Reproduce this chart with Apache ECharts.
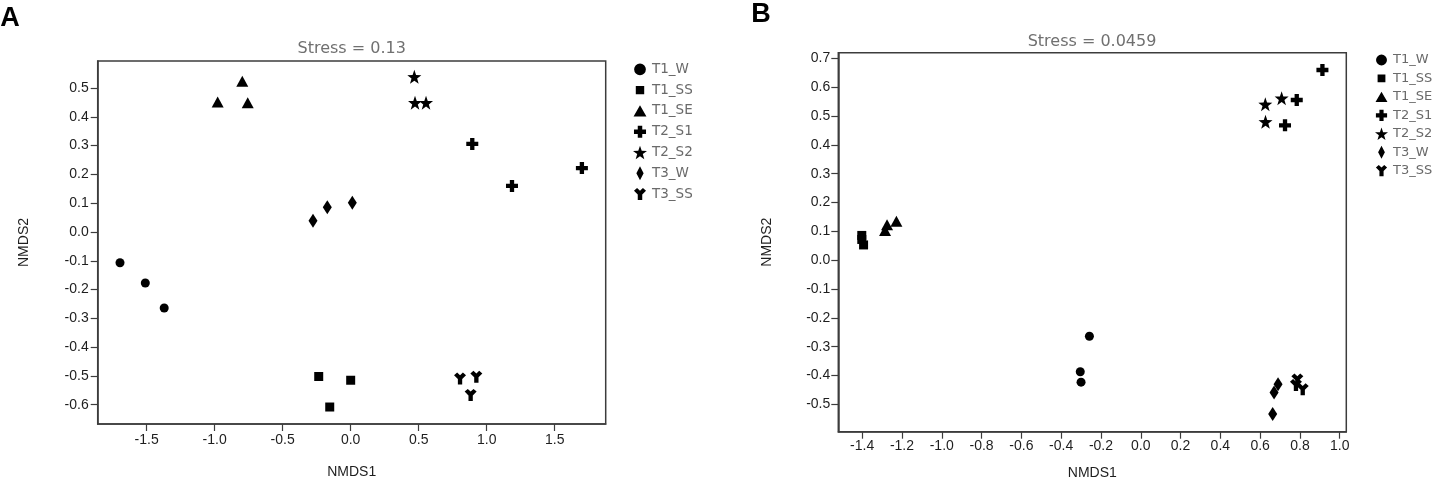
<!DOCTYPE html>
<html>
<head>
<meta charset="utf-8">
<script src="https://cdn.jsdelivr.net/npm/echarts@6/dist/echarts.min.js"></script>
<style>
html,body{margin:0;padding:0;background:#fff;}
#chart{width:1434px;height:483px;}
</style>
</head>
<body>
<div id="chart"></div>
<script>
// ---------- Data ----------
var groupNames = ['T1_W', 'T1_SS', 'T1_SE', 'T2_S1', 'T2_S2', 'T3_W', 'T3_SS'];

// Panel A (Stress = 0.13)
var A_T1_W  = [[-1.696, -0.107], [-1.510, -0.177], [-1.371, -0.264]];
var A_T1_SS = [[-0.235, -0.502], [-0.154, -0.608], [0.000, -0.515]];
var A_T1_SE = [[-0.978, 0.452], [-0.797, 0.524], [-0.757, 0.449]];
var A_T2_S1 = [[0.894, 0.306], [1.186, 0.160], [1.700, 0.222]];
var A_T2_S2 = [[0.468, 0.539], [0.473, 0.449], [0.554, 0.449]];
var A_T3_W  = [[-0.277, 0.039], [-0.172, 0.086], [0.012, 0.102]];
var A_T3_SS = [[0.804, -0.509], [0.924, -0.503], [0.882, -0.566]];

// Panel B (Stress = 0.0459)
var B_T1_W  = [[-0.304, -0.387], [-0.300, -0.423], [-0.258, -0.264]];
var B_T1_SS = [[-1.402, 0.086], [-1.402, 0.072], [-1.393, 0.053]];
var B_T1_SE = [[-1.285, 0.103], [-1.275, 0.123], [-1.228, 0.135]];
var B_T2_S1 = [[0.913, 0.660], [0.784, 0.556], [0.725, 0.468]];
var B_T2_S2 = [[0.626, 0.541], [0.708, 0.562], [0.627, 0.480]];
var B_T3_W  = [[0.663, -0.534], [0.670, -0.459], [0.690, -0.430]];
var B_T3_SS = [[0.787, -0.414], [0.780, -0.433], [0.814, -0.448]];

// Tick values
var A_xTicks = [-1.5, -1.0, -0.5, 0.0, 0.5, 1.0, 1.5];
var A_yTicks = [-0.6, -0.5, -0.4, -0.3, -0.2, -0.1, 0.0, 0.1, 0.2, 0.3, 0.4, 0.5];
var B_xTicks = [-1.4, -1.2, -1.0, -0.8, -0.6, -0.4, -0.2, 0.0, 0.2, 0.4, 0.6, 0.8, 1.0];
var B_yTicks = [-0.5, -0.4, -0.3, -0.2, -0.1, 0.0, 0.1, 0.2, 0.3, 0.4, 0.5, 0.6, 0.7];

var titleA = 'Stress = 0.13';
var titleB = 'Stress = 0.0459';

// ---------- Symbols ----------
var PLUS = 'path://M32,0 L68,0 L68,32 L100,32 L100,68 L68,68 L68,100 L32,100 L32,68 L0,68 L0,32 L32,32 Z';
var STAR = 'path://M50,0 L61.76,33.82 L97.55,34.55 L69.02,56.18 L79.39,90.45 L50,70 L20.61,90.45 L30.98,56.18 L2.45,34.55 L38.24,33.82 Z';
var YSYM = 'path://M0,22 L26,0 L50,22 L74,0 L100,22 L68,54 L68,100 L32,100 L32,54 Z';

var symbols = ['circle', 'rect', 'triangle', PLUS, STAR, 'diamond', YSYM];
var sizes = [9, 9, [12, 11], 12, 14, [9, 14], 12];

// Legend icons, padded inside a 100x100 frame
var PAD = 'M0,0 L0.01,0 L0,0.01 Z M100,100 L99.99,100 L100,99.99 Z ';
var legendIcons = [
  'path://' + PAD + 'M8,50 A42,42 0 1,0 92,50 A42,42 0 1,0 8,50 Z',
  'path://' + PAD + 'M20,20 L80,20 L80,80 L20,80 Z',
  'path://' + PAD + 'M50,10 L96,90 L4,90 Z',
  'path://' + PAD + 'M34,7 L66,7 L66,34 L93,34 L93,66 L66,66 L66,93 L34,93 L34,66 L7,66 L7,34 L34,34 Z',
  STAR,
  'path://' + PAD + 'M50,0 L76,50 L50,100 L24,50 Z',
  'path://' + PAD + 'M7,26 L29,7 L50,26 L71,7 L93,26 L66,53 L66,93 L34,93 L34,53 Z'
];

var dataA = [A_T1_W, A_T1_SS, A_T1_SE, A_T2_S1, A_T2_S2, A_T3_W, A_T3_SS];
var dataB = [B_T1_W, B_T1_SS, B_T1_SE, B_T2_S1, B_T2_S2, B_T3_W, B_T3_SS];

// ---------- Styling ----------
var AXC = '#3c3c3c';
var tickFont = {fontFamily: '"Liberation Sans", Arial, sans-serif', fontSize: 14, color: '#1e1e1e'};
var fmt = function (v) { return (Math.abs(v) < 1e-9 ? 0 : v).toFixed(1); };

function makeX(gi, min, max, ticks, gap, margin) {
  return {
    gridIndex: gi, type: 'value', min: min, max: max,
    splitLine: {show: false},
    axisLine: {show: true, onZero: false, lineStyle: {color: AXC, width: 1.5}},
    axisTick: {show: true, length: 7, customValues: ticks, lineStyle: {color: AXC, width: 1.2}},
    axisLabel: Object.assign({customValues: ticks, formatter: fmt, margin: margin}, tickFont),
    name: 'NMDS1', nameLocation: 'middle', nameGap: gap,
    nameTextStyle: tickFont
  };
}
function makeY(gi, min, max, ticks, gap, margin) {
  return {
    gridIndex: gi, type: 'value', min: min, max: max,
    splitLine: {show: false},
    axisLine: {show: true, onZero: false, lineStyle: {color: AXC, width: 1.5}},
    axisTick: {show: true, length: 7, customValues: ticks, lineStyle: {color: AXC, width: 1.2}},
    axisLabel: Object.assign({customValues: ticks, formatter: fmt, margin: margin}, tickFont),
    name: 'NMDS2', nameLocation: 'middle', nameGap: gap,
    nameTextStyle: tickFont
  };
}

var series = [];
[dataA, dataB].forEach(function (ds, p) {
  ds.forEach(function (d, i) {
    series.push({
      type: 'scatter', name: groupNames[i],
      xAxisIndex: p, yAxisIndex: p,
      data: d,
      symbol: symbols[i], symbolSize: sizes[i],
      itemStyle: {color: '#000', opacity: 1},
      emphasis: {disabled: true},
      z: 3
    });
  });
});

function legendData() {
  return groupNames.map(function (n, i) { return {name: n, icon: legendIcons[i]}; });
}

var legendFont = 'DejaVu Sans, sans-serif';

var option = {
  animation: false,
  backgroundColor: '#fff',
  grid: [
    {left: 97.7, top: 61, width: 508, height: 363, show: true, borderColor: AXC, borderWidth: 1.5, backgroundColor: 'transparent', containLabel: false, outerBoundsMode: 'none'},
    {left: 838.3, top: 52.7, width: 508, height: 379, show: true, borderColor: AXC, borderWidth: 1.5, backgroundColor: 'transparent', containLabel: false, outerBoundsMode: 'none'}
  ],
  xAxis: [
    makeX(0, -1.86, 1.875, A_xTicks, 41, 9),
    makeX(1, -1.52, 1.033, B_xTicks, 34, 7)
  ],
  yAxis: [
    makeY(0, -0.667, 0.594, A_yTicks, 67, 9),
    makeY(1, -0.595, 0.720, B_yTicks, 64, 8)
  ],
  legend: [
    {
      orient: 'vertical', left: 633, top: 62.3, padding: 0,
      itemWidth: 14, itemHeight: 14, itemGap: 6.8,
      data: legendData(), selectedMode: false,
      textStyle: {fontFamily: legendFont, fontSize: 13.5, color: '#6a6a6a'}
    },
    {
      orient: 'vertical', left: 1375, top: 53.5, padding: 0,
      itemWidth: 13, itemHeight: 13, itemGap: 5.45,
      data: legendData(), selectedMode: false,
      textStyle: {fontFamily: legendFont, fontSize: 13, color: '#6a6a6a'}
    }
  ],
  graphic: [
    {type: 'text', x: 10, y: 19, style: {text: 'A', font: 'bold 27px "Liberation Sans", Arial, sans-serif', fill: '#000', align: 'center', verticalAlign: 'middle'}},
    {type: 'text', x: 761, y: 15, style: {text: 'B', font: 'bold 27px "Liberation Sans", Arial, sans-serif', fill: '#000', align: 'center', verticalAlign: 'middle'}},
    {type: 'text', x: 351.7, y: 49, style: {text: titleA, font: '16px "DejaVu Sans", sans-serif', fill: '#707070', align: 'center', verticalAlign: 'middle'}},
    {type: 'text', x: 1092, y: 42.3, style: {text: titleB, font: '16px "DejaVu Sans", sans-serif', fill: '#707070', align: 'center', verticalAlign: 'middle'}}
  ],
  series: series
};

var chart = echarts.init(document.getElementById('chart'), null, {renderer: 'canvas'});
chart.setOption(option);
</script>
</body>
</html>
